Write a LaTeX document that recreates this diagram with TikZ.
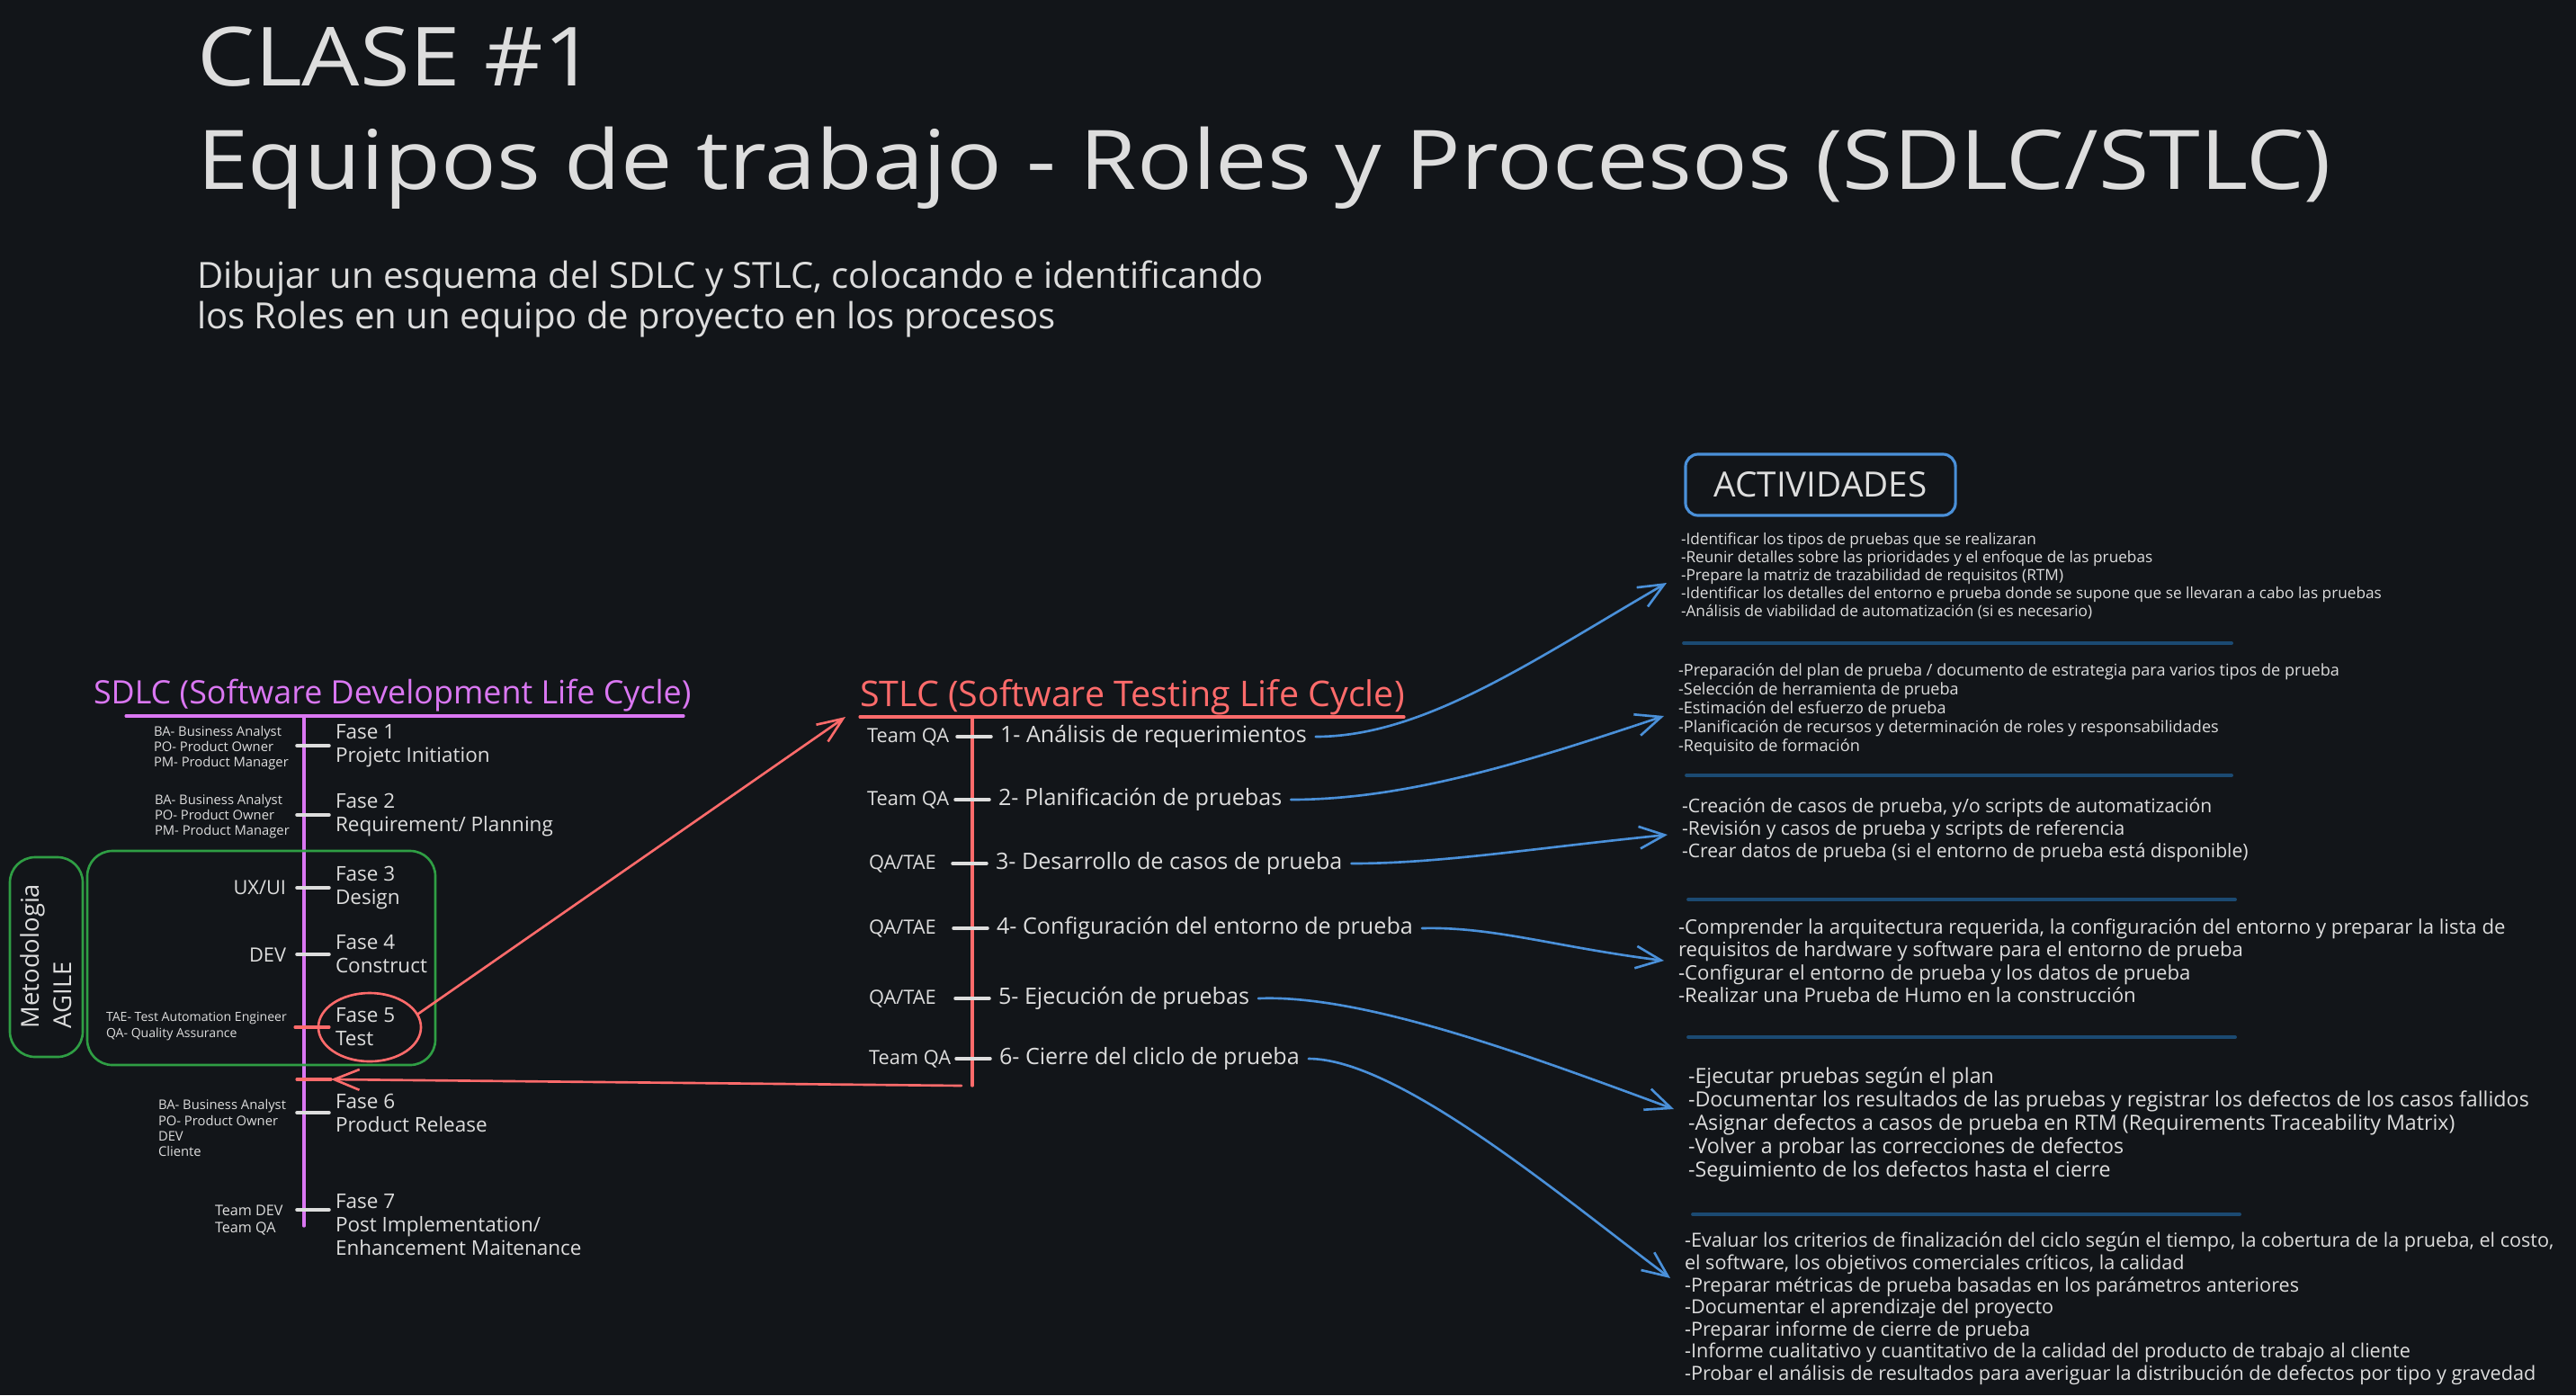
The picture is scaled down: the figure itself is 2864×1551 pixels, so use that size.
\documentclass[tikz,border=0pt]{standalone}
\usepackage{fontspec}
\setmainfont{Open Sans}
\newfontfamily\widefont[FakeStretch=1.12]{Open Sans}
\usetikzlibrary{arrows.meta,shapes.geometric}
\definecolor{BoardBg}{HTML}{121519}
\definecolor{BoardInk}{HTML}{DDDDDD}
\definecolor{BoardViolet}{HTML}{DA77F2}
\definecolor{BoardRed}{HTML}{FF6B6B}
\definecolor{BoardGreen}{HTML}{2F9E44}
\definecolor{BoardBlue}{HTML}{4A90D9}
\definecolor{BoardRule}{HTML}{1B4A72}
\newcommand{\txtsize}[2]{\fontsize{#1}{#2}\selectfont}
\tikzset{
    board/diagram/.style={
        x=0.01cm, y=-0.01cm,
        line cap=round, line join=round,
        every node/.style={inner sep=0pt, outer sep=0pt, text=BoardInk}
    },
    board/sdlc/.style={draw=BoardViolet, line width=0.9pt},
    board/stlc/.style={draw=BoardRed, line width=0.9pt},
    board/tick/.style={draw=BoardInk, line width=1pt},
    board/agile/.style={draw=BoardGreen, line width=0.75pt, rounded corners=0.28cm},
    board/rule/.style={draw=BoardRule, line width=1.1pt},
    board/flow/.style={
        draw=BoardBlue, line width=0.75pt,
        -{Straight Barb[length=8pt, width=7pt]}
    },
    board/back/.style={
        draw=BoardRed, line width=0.75pt,
        -{Straight Barb[length=8pt, width=6.5pt]}
    },
    board/phase/.style={anchor=west, align=left, font=\txtsize{6.4}{7.4}, inner xsep=0.07cm},
    board/roles/.style={anchor=west, align=left, font=\txtsize{4.2}{4.85}},
    board/team/.style={anchor=west, font=\txtsize{6.2}{7}},
    board/item/.style={anchor=west, font=\txtsize{7.15}{8}, inner xsep=0.1cm},
    board/list/.style={anchor=west, align=left, outer xsep=0.16cm}
}

\begin{document}
\begin{tikzpicture}[board/diagram]
    \fill[BoardBg] (0,0) rectangle (2864,1551);
    \useasboundingbox (0,0) rectangle (2864,1551);

    % titulo
    \node[anchor=base west, font=\widefont\txtsize{25.8}{30}] (clase) at (219,95) {CLASE \#1};
    \node[anchor=base west, font=\widefont\txtsize{26}{30}] (tema) at (219,210)
        {Equipos de trabajo - Roles y Procesos (SDLC/STLC)};
    \node[anchor=north west, align=left, font=\txtsize{11.4}{12.8}] (consigna) at (219,290)
        {Dibujar un esquema del SDLC y STLC, colocando e identificando\\
         los Roles en un equipo de proyecto en los procesos};

    % SDLC
    \node[anchor=base west, text=BoardViolet, font=\txtsize{10.2}{12}] (sdlc) at (104,782)
        {SDLC (Software Development Life Cycle)};
    \draw[board/sdlc] (140,796) -- (760,796)
                      (338,796) -- (338,1363);
    \draw[board/agile] (97,946) rectangle (484,1184);
    \draw[board/agile] (11,953) rectangle (92,1175);
    \node[rotate=90, align=left, font=\txtsize{7.8}{10.2}] (agile) at (51,1063)
        {Metodologia\\AGILE};

    \node[board/phase] (f1) at (366,829) {Fase 1\\Projetc Initiation};
    \node[board/phase] (f2) at (366,906) {Fase 2\\Requirement/ Planning};
    \node[board/phase] (f3) at (366,987) {Fase 3\\Design};
    \node[board/phase] (f4) at (366,1061) {Fase 4\\Construct};
    \node[board/phase] (f5) at (366,1142) {Fase 5\\Test};
    \node[board/phase] (f6) at (366,1237) {Fase 6\\Product Release};
    \node[board/phase] (f7) at (366,1362) {Fase 7\\Post Implementation/\\Enhancement Maitenance};
    \draw[board/tick] (f1.west) -- ++(-36,0)
                      (f2.west) -- ++(-36,0)
                      (f3.west) -- ++(-36,0)
                      (f4.west) -- ++(-36,0)
                      (f6.west) -- ++(-36,0)
                      ([yshift=0.17cm]f7.west) -- ++(-36,0);
    \draw[board/stlc] (f5.west) -- ++(-38,0);
    \node[draw=BoardRed, line width=0.75pt, ellipse, minimum width=1.14cm,
          minimum height=0.76cm] (c5) at (411,1142) {};

    \node[board/roles] (r1) at (171,832) {BA- Business Analyst\\PO- Product Owner\\PM- Product Manager};
    \node[board/roles] (r2) at (172,908) {BA- Business Analyst\\PO- Product Owner\\PM- Product Manager};
    \node[anchor=east, font=\txtsize{6.2}{7}] (r3) at (318,987) {UX/UI};
    \node[anchor=east, font=\txtsize{6.2}{7}] (r4) at (318,1062) {DEV};
    \node[board/roles, font=\txtsize{4}{4.85}] (r5) at (118,1141)
        {TAE- Test Automation Engineer\\QA- Quality Assurance};
    \node[board/roles] (r6) at (176,1254) {BA- Business Analyst\\PO- Product Owner\\DEV\\Cliente};
    \node[board/roles, font=\txtsize{4.6}{5.4}] (r7) at (239,1357) {Team DEV\\Team QA};

    % STLC
    \node[anchor=base west, text=BoardRed, font=\txtsize{11.2}{12}] (stlc) at (956,785)
        {STLC (Software Testing Life Cycle)};
    \draw[board/stlc] (956,797) -- (1561,797)
                      (1081,799) -- (1081,1207);
    \draw[board/back] (c5.15) -- ([xshift=-0.16cm, yshift=-0.12cm]stlc.base west);
    \coordinate (stlcend) at (1069,1207);
    \coordinate (sdlcret) at (368,1200);
    \draw[board/back] (stlcend) -- (sdlcret);
    \draw[board/stlc] (sdlcret) -- ++(-38,0);

    \node[board/team] (q1) at (964,819) {Team QA};
    \node[board/team] (q2) at (964,889) {Team QA};
    \node[board/team] (q3) at (966,960) {QA/TAE};
    \node[board/team] (q4) at (966,1032) {QA/TAE};
    \node[board/team] (q5) at (966,1110) {QA/TAE};
    \node[board/team] (q6) at (966,1177) {Team QA};

    \node[board/item] (s1) at (1102,819) {1- Análisis de requerimientos};
    \node[board/item] (s2) at (1100,889) {2- Planificación de pruebas};
    \node[board/item] (s3) at (1097,960) {3- Desarrollo de casos de prueba};
    \node[board/item] (s4) at (1098,1032) {4- Configuración del entorno de prueba};
    \node[board/item] (s5) at (1100,1110) {5- Ejecución de pruebas};
    \node[board/item] (s6) at (1101,1177) {6- Cierre del cliclo de prueba};
    \draw[board/tick] (s1.west) -- ++(-38,0)
                      (s2.west) -- ++(-38,0)
                      (s3.west) -- ++(-38,0)
                      (s4.west) -- ++(-38,0)
                      (s5.west) -- ++(-38,0)
                      (s6.west) -- ++(-38,0);

    % actividades
    \node[draw=BoardBlue, line width=0.9pt, rounded corners=0.14cm, minimum width=3cm,
          minimum height=0.68cm, font=\txtsize{11}{13}] (act) at (2024,539) {ACTIVIDADES};

    \node[board/list, font=\txtsize{4.9}{5.7}] (b1) at (1853,640)
        {-Identificar los tipos de pruebas que se realizaran\\
         -Reunir detalles sobre las prioridades y el enfoque de las pruebas\\
         -Prepare la matriz de trazabilidad de requisitos (RTM)\\
         -Identificar los detalles del entorno e prueba donde se supone que se llevaran a cabo las pruebas\\
         -Análisis de viabilidad de automatización (si es necesario)};
    \node[board/list, font=\txtsize{5.15}{6}] (b2) at (1850,789)
        {-Preparación del plan de prueba / documento de estrategia para varios tipos de prueba\\
         -Selección de herramienta de prueba\\
         -Estimación del esfuerzo de prueba\\
         -Planificación de recursos y determinación de roles y responsabilidades\\
         -Requisito de formación};
    \node[board/list, font=\txtsize{6}{7.1}] (b3) at (1854,923)
        {-Creación de casos de prueba, y/o scripts de automatización\\
         -Revisión y casos de prueba y scripts de referencia\\
         -Crear datos de prueba (si el entorno de prueba está disponible)};
    \node[board/list, font=\txtsize{6.3}{7.2}] (b4) at (1850,1068)
        {-Comprender la arquitectura requerida, la configuración del entorno y preparar la lista de\\
         requisitos de hardware y software para el entorno de prueba\\
         -Configurar el entorno de prueba y los datos de prueba\\
         -Realizar una Prueba de Humo en la construcción};
    \node[board/list, font=\txtsize{6.6}{7.4}] (b5) at (1861,1250)
        {-Ejecutar pruebas según el plan\\
         -Documentar los resultados de las pruebas y registrar los defectos de los casos fallidos\\
         -Asignar defectos a casos de prueba en RTM (Requirements Traceability Matrix)\\
         -Volver a probar las correcciones de defectos\\
         -Seguimiento de los defectos hasta el cierre};
    \node[board/list, font=\txtsize{6.15}{7}] (b6) at (1857,1455)
        {-Evaluar los criterios de finalización del ciclo según el tiempo, la cobertura de la prueba, el costo,\\
         el software, los objetivos comerciales críticos, la calidad\\
         -Preparar métricas de prueba basadas en los parámetros anteriores\\
         -Documentar el aprendizaje del proyecto\\
         -Preparar informe de cierre de prueba\\
         -Informe cualitativo y cuantitativo de la calidad del producto de trabajo al cliente\\
         -Probar el análisis de resultados para averiguar la distribución de defectos por tipo y gravedad};
    \draw[board/rule] (1872,715) -- (2481,715)
                      (1875,862) -- (2481,862)
                      (1877,1000) -- (2485,1000)
                      (1877,1153) -- (2485,1153)
                      (1882,1350) -- (2490,1350);

    \draw[board/flow] (s1.east) .. controls +(120,0) and +(-150,87) .. ([yshift=-0.08cm]b1.west);
    \draw[board/flow] (s2.east) .. controls +(130,0) and +(-150,50) .. ([yshift=-0.07cm]b2.west);
    \draw[board/flow] (s3.east) .. controls +(100,0) and +(-150,15) .. ([yshift=-0.05cm]b3.west);
    \draw[board/flow] (s4.east) .. controls +(80,-2) and +(-120,-15) .. (b4.west);
    \draw[board/flow] (s5.east) .. controls +(120,-5) and +(-150,-55) .. ([yshift=0.17cm]b5.west);
    \draw[board/flow] (s6.east) .. controls +(100,0) and +(-120,-90) .. ([yshift=0.34cm]b6.west);
\end{tikzpicture}
\end{document}
